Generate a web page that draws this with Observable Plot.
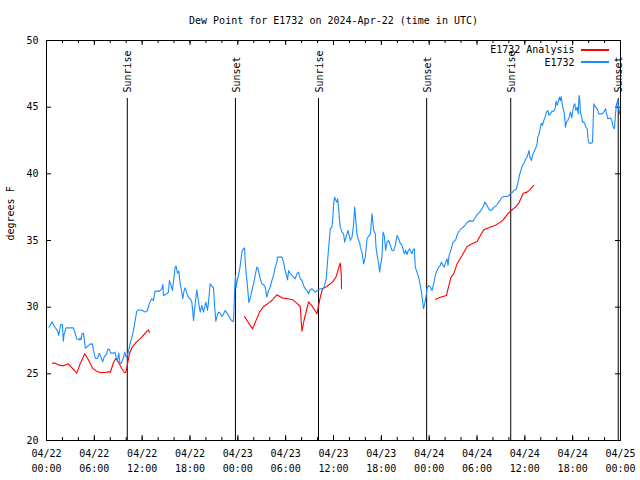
<!DOCTYPE html>
<html>
<head>
<meta charset="utf-8">
<script src="https://cdn.jsdelivr.net/npm/d3@7"></script>
<script src="https://cdn.jsdelivr.net/npm/@observablehq/plot@0.6"></script>
<style>
  html, body { margin: 0; padding: 0; background: #fff; }
</style>
</head>
<body>
<div id="chart"></div>
<script>
// ---------- data (hours after 2024-04-22 00:00 UTC) ----------
const chartTitle = "Dew Point for E1732 on 2024-Apr-22 (time in UTC)";
const yLabel = "degrees F";
const seriesNames = ["E1732 Analysis", "E1732"];
const seriesColors = ["#ff0000", "#1a8cff"];

const obsHours = [
  0.31,0.56,0.69,0.9,1.19,1.4,1.53,1.78,1.99,2.11,2.2,2.45,2.74,3.37,3.58,3.79,4.12,4.2,4.33,4.46,
  4.62,4.75,4.87,5.13,5.46,5.75,5.88,6.13,6.38,6.63,6.8,7.05,7.22,7.55,7.68,7.89,8.05,8.39,8.6,8.72,
  8.89,9.06,9.23,9.39,9.52,9.69,9.81,9.98,10.15,10.27,10.48,10.82,11.02,11.32,11.57,12.07,12.36,12.66,12.91,
  13.2,13.41,13.62,14.17,14.46,14.59,14.67,15.09,15.3,15.42,15.63,15.8,15.93,16.14,16.26,16.43,16.6,16.77,16.93,17.1,
  17.26,17.39,17.6,17.81,18.02,18.23,18.35,18.44,18.65,18.86,19.07,19.28,19.49,19.7,19.99,20.2,20.36,20.53,20.78,20.95,
  21.08,21.24,21.37,21.58,21.79,22.0,22.21,22.42,22.63,22.84,23.05,23.3,23.46,
  23.62,23.71,23.79,23.96,24.21,24.38,24.54,24.84,24.92,25.05,25.22,25.38,25.55,25.76,25.97,26.18,26.39,26.51,26.68,26.81,
  27.02,27.23,27.43,27.64,27.85,28.06,28.27,28.48,28.69,28.9,28.98,29.53,29.73,29.94,30.07,30.24,30.36,30.58,30.78,30.99,
  31.2,31.41,31.62,31.83,32.04,32.24,32.45,32.66,32.87,33.0,33.29,33.71,33.92,34.12,34.34,34.76,35.09,35.26,35.38,35.51,
  35.59,35.8,35.93,36.01,36.14,36.31,36.43,36.52,36.64,36.72,36.85,37.06,37.27,37.4,37.69,37.81,37.98,38.11,38.32,38.53,
  38.65,38.73,38.94,39.15,39.28,39.36,39.57,39.78,39.99,40.2,40.62,40.83,41.04,41.24,41.33,41.45,41.66,41.79,41.87,42.08,
  42.21,42.37,42.54,42.71,42.92,43.13,43.34,43.55,43.76,43.97,44.18,44.3,
  44.59,44.72,44.89,45.05,45.22,45.39,45.55,45.72,45.85,45.97,46.14,46.26,46.47,46.68,46.8,46.97,47.14,47.3,47.43,47.6,
  47.72,47.93,48.14,48.35,48.56,48.77,48.98,49.19,49.4,
  49.53,49.74,49.9,50.07,50.24,50.36,50.49,50.66,50.83,50.99,51.16,51.33,51.49,51.66,51.83,52.0,52.17,52.33,52.5,52.67,
  52.84,53.09,53.25,53.5,53.71,54.01,54.22,54.43,54.63,54.84,54.97,55.26,55.47,55.68,55.89,56.1,56.31,56.52,56.73,56.94,
  57.14,57.35,57.77,58.02,58.19,58.4,58.61,58.82,58.94,59.11,59.24,59.36,59.45,59.57,59.7,59.87,60.12,60.28,60.41,60.54,
  60.62,60.83,60.96,61.12,61.33,61.54,
  61.62,61.79,61.96,62.08,62.21,62.38,62.54,62.71,62.88,63.04,63.21,63.42,63.63,63.8,63.92,64.05,64.18,64.34,64.47,64.55,
  64.68,64.8,64.97,65.1,65.22,65.39,65.56,65.72,65.89,66.02,66.14,66.27,66.39,66.56,66.69,66.81,66.9,66.98,67.11,67.23,
  67.4,67.53,67.65,67.82,67.95,68.07,68.32,68.49,68.65,68.86,69.07,69.28,69.7,69.91,70.12,70.25,70.41,70.75,70.91,71.08,
  71.25,71.37,71.5,71.67,71.75,71.92,72.0
];
const obsDewpoint = [
  28.5,28.75,28.9,28.63,28.38,28.2,27.88,28.7,28.7,27.45,27.93,28.45,28.45,28.45,28.05,27.63,27.55,27.68,27.55,28.0,
  28.05,27.55,26.93,27.05,27.23,27.25,26.8,26.15,26.15,26.55,26.3,25.9,26.25,26.5,26.85,26.83,26.55,26.55,26.63,26.25,
  25.95,26.55,25.75,25.8,26.0,26.3,26.63,26.25,26.38,26.63,27.25,28.0,28.63,29.7,29.8,29.75,29.63,29.75,30.3,
  30.63,30.5,31.2,31.2,31.38,31.7,30.88,31.0,31.13,32.0,31.63,31.25,31.95,33.0,33.08,32.55,32.7,31.75,31.25,30.63,
  31.25,31.45,31.05,30.75,30.63,30.38,29.63,29.0,30.25,31.3,30.38,29.63,30.13,29.63,30.38,29.75,30.63,31.75,31.55,31.45,
  30.13,28.95,29.25,29.63,29.55,29.3,29.5,29.75,29.55,29.38,29.13,28.95,28.95,
  31.55,32.38,31.5,32.13,32.75,33.5,34.25,34.45,33.5,32.5,31.5,30.35,30.63,31.25,31.75,32.38,33.0,32.95,32.5,32.13,
  31.75,31.7,31.5,30.75,31.25,31.5,32.0,32.38,33.0,33.38,33.75,33.75,33.38,32.75,32.43,32.05,32.75,32.5,32.38,32.25,
  32.13,32.5,32.63,32.13,32.0,31.63,31.38,31.25,31.0,31.25,31.38,31.13,31.25,31.3,31.38,31.38,32.13,33.5,34.38,35.25,
  35.88,36.0,36.8,37.75,38.25,38.0,37.88,38.13,37.5,36.75,36.0,35.63,35.5,34.88,35.5,35.75,35.38,35.0,35.25,36.25,
  37.5,37.0,35.5,35.0,34.88,34.5,34.13,33.25,33.75,35.13,35.5,37.0,35.75,35.5,34.5,34.0,33.25,32.63,33.0,33.75,
  35.63,35.38,34.25,34.88,35.0,34.63,34.25,34.25,34.63,35.38,35.13,34.88,
  34.63,34.38,34.0,34.25,33.95,34.25,34.38,34.13,34.0,34.3,34.38,33.0,32.63,32.25,31.88,31.38,30.63,29.88,30.25,30.75,
  31.38,31.63,31.5,31.25,31.75,32.38,32.75,33.0,33.13,
  33.38,33.13,33.0,33.38,33.63,33.13,33.88,34.13,34.5,34.88,34.95,35.05,35.38,35.63,35.75,35.88,35.95,36.05,36.13,36.3,
  36.38,36.5,36.45,36.45,36.63,36.95,37.05,37.2,37.38,37.63,37.88,37.63,37.38,37.25,37.3,37.5,37.55,37.7,37.88,38.05,
  38.25,38.3,38.3,38.38,38.55,38.58,38.75,38.8,38.88,39.25,39.63,40.0,40.13,40.38,40.63,40.75,41.13,41.25,41.5,41.75,
  41.3,41.0,41.38,41.63,41.88,42.25,
  42.75,43.0,43.5,43.8,43.63,44.0,44.25,44.63,44.75,44.38,44.5,44.7,44.7,44.88,45.45,45.13,45.38,45.75,45.5,45.8,
  45.25,44.88,44.5,43.5,43.88,44.0,44.25,44.63,44.2,44.75,45.13,45.25,44.75,45.0,44.5,45.88,45.5,44.5,44.38,43.88,
  43.88,43.75,43.5,43.38,42.5,42.3,42.3,42.38,45.25,45.0,44.88,44.5,44.5,44.63,44.88,44.5,44.13,44.2,44.0,43.5,
  43.38,44.5,45.25,45.5,45.0,44.5,44.38
];

// analysis: three runs, separated by a missing value (null)
const anaHours = [
  0.75,1.1,1.6,2.1,2.5,2.75,3.1,3.5,3.8,4.25,4.8,5.3,5.8,6.3,6.75,7.25,7.75,8.0,8.4,8.7,
  9.0,9.45,9.75,9.95,10.15,10.4,10.75,11.3,11.95,12.6,12.8,12.9,
  18,
  24.83,25.84,26.72,27.22,27.85,28.27,28.9,29.53,30.23,30.9,31.4,31.83,32.04,32.3,32.67,32.87,33.3,33.92,34.34,34.63,
  35.18,35.88,36.31,36.63,36.85,36.98,37.0,
  42,
  48.82,49.4,50.16,50.74,51.08,51.5,52.13,52.76,53.38,54.01,54.43,54.84,55.47,56.31,56.94,57.27,57.86,58.28,58.82,59.24,
  59.79,60.29,60.62,61.12
];
const anaDewpoint = [
  25.8,25.8,25.65,25.6,25.7,25.75,25.5,25.25,25.05,25.8,26.5,26.0,25.4,25.2,25.1,25.1,25.15,25.1,25.85,26.15,
  25.9,25.4,25.1,25.1,25.7,26.5,27.0,27.4,27.75,28.2,28.3,28.1,
  null,
  29.3,28.37,29.63,30.05,30.3,30.5,30.93,30.7,30.63,30.55,30.3,30.05,28.2,29.0,29.9,30.4,30.1,29.5,30.75,31.4,
  31.55,31.9,32.25,32.9,33.3,32.4,31.4,
  null,
  30.6,30.75,30.88,32.25,32.5,33.25,33.88,34.55,34.75,34.93,35.38,35.8,35.95,36.15,36.38,36.55,37.0,37.25,37.5,37.8,
  38.55,38.63,38.8,39.13
];

const eventTimes = ["2024-04-22T10:08Z", "2024-04-22T23:42Z", "2024-04-23T10:07Z",
                    "2024-04-23T23:41Z", "2024-04-24T10:14Z", "2024-04-24T23:43Z"];
const eventLabels = ["Sunrise", "Sunset", "Sunrise", "Sunset", "Sunrise", "Sunset"];

const yTicks = [20, 25, 30, 35, 40, 45, 50];
const xStart = "2024-04-22T00:00Z";
const xEnd = "2024-04-25T00:00Z";

// ---------- build ----------
const T0 = new Date(xStart).getTime();
const toDate = h => new Date(T0 + h * 3600e3);
const obs = obsHours.map((h, i) => ({time: toDate(h), value: obsDewpoint[i]}));
const ana = anaHours.map((h, i) => ({time: toDate(h), value: anaDewpoint[i]}));
const events = eventTimes.map((t, i) => ({time: new Date(t), label: eventLabels[i]}));
const d0 = new Date(xStart), d1 = new Date(xEnd);
const majorTicks = d3.utcHour.every(6).range(d0, new Date(+d1 + 1));
const minorTicks = d3.utcHour.every(2).range(d0, new Date(+d1 + 1));
const fmt = d3.utcFormat("%m/%d\n%H:%M");

const W = 640, H = 480, mL = 46, mR = 20, mT = 40, mB = 40;
const fw = W - mL - mR, fh = H - mT - mB;
const major = 5, minor = 3;

const chart = Plot.plot({
  width: W, height: H,
  marginLeft: mL, marginRight: mR, marginTop: mT, marginBottom: mB,
  style: {fontFamily: "'DejaVu Sans Mono', monospace", fontSize: "10px", background: "#fff", color: "#000"},
  x: {type: "utc", domain: [d0, d1]},
  y: {domain: [20, 50]},
  marks: [
    // ticks (inward, mirrored)
    Plot.ruleX(minorTicks, {x: d => d, insetTop: fh - minor, stroke: "#000"}),
    Plot.ruleX(minorTicks, {x: d => d, insetBottom: fh - minor, stroke: "#000"}),
    Plot.ruleX(majorTicks, {x: d => d, insetTop: fh - major, stroke: "#000"}),
    Plot.ruleX(majorTicks, {x: d => d, insetBottom: fh - major, stroke: "#000"}),
    Plot.ruleY(yTicks, {y: d => d, insetRight: fw - major, stroke: "#000"}),
    Plot.ruleY(yTicks, {y: d => d, insetLeft: fw - major, stroke: "#000"}),
    // axes labels
    Plot.axisX(majorTicks, {tickSize: 0, tickPadding: 6, tickFormat: fmt, lineHeight: 1.5, label: null, fill: "#000"}),
    Plot.axisY(yTicks, {tickSize: 0, tickPadding: 8, label: null, fill: "#000"}),
    Plot.text([yLabel], {frameAnchor: "left", dx: -36, rotate: -90, lineAnchor: "middle", fill: "#000"}),
    Plot.text([chartTitle], {frameAnchor: "top", dy: -20, lineAnchor: "middle", fill: "#000"}),
    // sunrise / sunset
    Plot.ruleX(events, {x: "time", insetTop: 58, stroke: "#000"}),
    Plot.text(events, {x: "time", text: "label", frameAnchor: "top", dy: 52, dx: 1, rotate: -90,
      textAnchor: "start", lineAnchor: "middle", fill: "#000"}),
    // series
    Plot.line(ana, {x: "time", y: "value", stroke: seriesColors[0], strokeWidth: 1.1}),
    Plot.line(obs, {x: "time", y: "value", stroke: seriesColors[1], strokeWidth: 1.1}),
    // legend text
    Plot.text([seriesNames[0]], {frameAnchor: "top-right", dx: -46, dy: 9.5, textAnchor: "end", lineAnchor: "middle", fill: "#000"}),
    Plot.text([seriesNames[1]], {frameAnchor: "top-right", dx: -46, dy: 22, textAnchor: "end", lineAnchor: "middle", fill: "#000"}),
    Plot.frame({stroke: "#000"})
  ]
});

// legend line samples
const svg = d3.select(chart);
[0, 1].forEach(i => {
  svg.append("line")
    .attr("x1", W - mR - 39).attr("x2", W - mR - 11)
    .attr("y1", mT + 10 + i * 12).attr("y2", mT + 10 + i * 12)
    .attr("shape-rendering", "crispEdges")
    .style("stroke", seriesColors[i]).style("stroke-width", "1.5px");
});
document.getElementById("chart").appendChild(chart);
</script>
</body>
</html>
